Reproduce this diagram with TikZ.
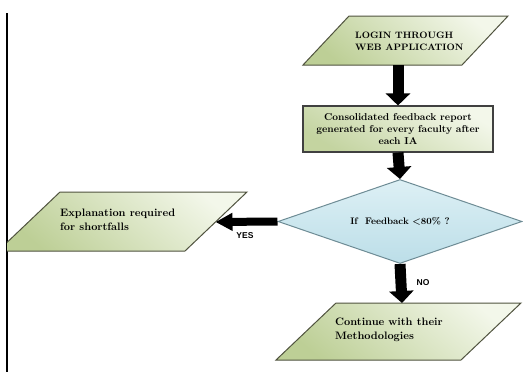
\documentclass[tikz,border=0pt]{standalone}
\usepackage{fontspec}
\newfontfamily\labelfont{Liberation Sans}
\usetikzlibrary{shapes.geometric,arrows.meta}
\definecolor{paraDark}{HTML}{BDCF96}
\definecolor{paraLight}{HTML}{F3F7EA}
\definecolor{paraEdge}{HTML}{50533F}
\definecolor{diaTop}{HTML}{DDF0F5}
\definecolor{diaBot}{HTML}{BCDEE8}
\definecolor{diaEdge}{HTML}{6E8C95}
\tikzset{
  parashape/.style={draw=paraEdge, line width=1pt, shading=axis, top color=paraLight, bottom color=paraDark, shading angle=-40},
  rectbox/.style={rectangle, draw=black!75, line width=1.1pt, shading=axis, top color=paraLight, bottom color=paraDark!90, shading angle=-30,
    minimum width=190pt, minimum height=46pt, inner sep=0pt, align=center, font=\fontsize{10}{12}\selectfont\bfseries},
  decision/.style={diamond, aspect=2.9, draw=diaEdge, line width=1pt, top color=diaTop, bottom color=diaBot,
    minimum width=244pt, minimum height=84pt, inner sep=0pt, font=\fontsize{9.5}{11}\selectfont\bfseries},
  paratext/.style={anchor=west, align=left, inner sep=0pt},
  bigarrow/.style={line width=11pt, -{Triangle[length=12pt,width=24pt]}},
  sidearrow/.style={line width=8pt, -{Triangle[length=17pt,width=17pt]}},
  answer/.style={font=\labelfont\fontsize{8.5}{10}\selectfont\bfseries, inner sep=0pt}
}
\begin{document}
\begin{tikzpicture}[x=1pt,y=-1pt]
\useasboundingbox (0,0) rectangle (523,372);
\fill[white] (0,0) rectangle (523,372);
% left rule
\coordinate (ruleT) at (7,13);
\coordinate (ruleB) at (7,372);
\draw[line width=1.2pt] (ruleT) -- (ruleB);
% top parallelogram
\shade[parashape] (349,16) -- (508,16) -- (462,65) -- (303,65) -- cycle;
\node[paratext, font=\fontsize{9.3}{12}\selectfont\bfseries] (login) at (355,41) {LOGIN THROUGH\\WEB APPLICATION};
\coordinate (loginS) at (398,65);
% consolidated report
\node[rectbox] (cons) at (398,129) {Consolidated feedback report\\generated for every faculty after\\each IA};
% decision
\node[decision] (dec) at (400,221.5) {If\ \ Feedback <80\% ?};
% left parallelogram
\begin{scope}
\clip (7,0) rectangle (523,372);
\shade[parashape] (60,192) -- (247,192) -- (185,251) -- (-2,251) -- cycle;
\end{scope}
\node[paratext, font=\fontsize{10.8}{14}\selectfont\bfseries] (expl) at (60,220) {Explanation required\\for shortfalls};
\coordinate (explE) at (215.5,222);
% bottom parallelogram
\shade[parashape] (336,303) -- (521,303) -- (461,360) -- (276,360) -- cycle;
\node[paratext, font=\fontsize{10.8}{14}\selectfont\bfseries] (cont) at (335,330) {Continue with their\\Methodologies};
\coordinate (contN) at (402,303);
% connectors
\draw[bigarrow] (loginS) -- (cons.north);
\draw[bigarrow] (cons.south) -- (dec.north);
\draw[sidearrow] (dec.west) -- (explE);
\draw[bigarrow] (dec.south) -- (contN);
% labels
\node[answer] (yes) at (245,236) {YES};
\node[answer] (no) at (423,283) {NO};
\end{tikzpicture}
\end{document}
